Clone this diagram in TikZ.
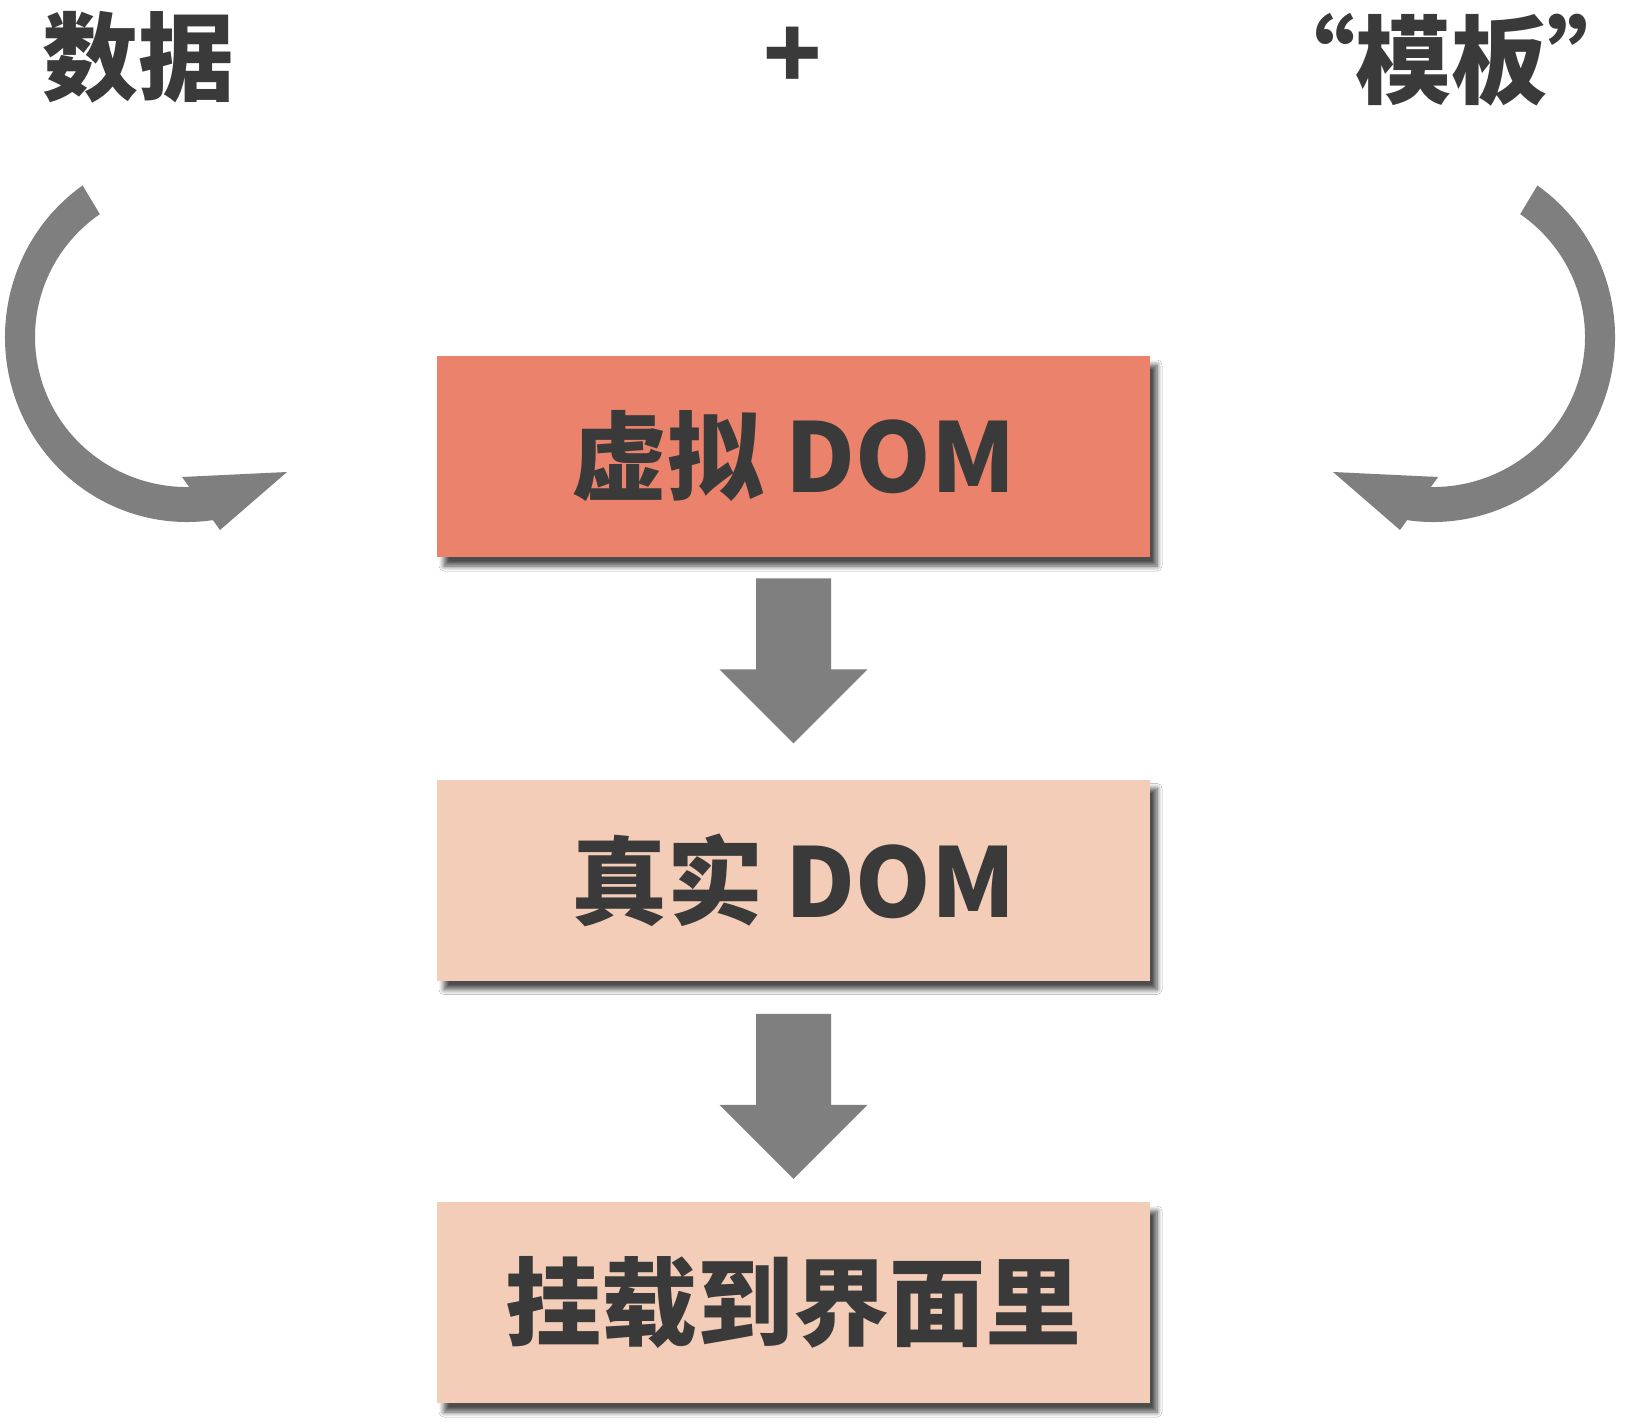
\documentclass[tikz,border=0pt]{standalone}
\usepackage{fontspec}
\setmainfont{Noto Sans CJK SC}
\usetikzlibrary{calc,shadows.blur}
\definecolor{boxdark}{HTML}{EB836C}
\definecolor{boxlight}{HTML}{F4CDB9}
\definecolor{arrowgray}{HTML}{7F7F7F}
\definecolor{textdark}{HTML}{3A3A3A}
\tikzset{
  bigtext/.style={font=\fontsize{48pt}{52pt}\selectfont\bfseries, text=textdark, inner sep=0pt},
  stagebox/.style={bigtext, minimum width=356.5pt, minimum height=100.5pt, inner sep=0pt,
    blur shadow={shadow xshift=3.5pt, shadow yshift=-4.5pt, shadow blur radius=2.5pt, shadow blur steps=8, shadow opacity=70}},
  downarrow/.pic={\fill[arrowgray] (-37.5,0) -- (37.5,0) -- (37.5,91) -- (74,91) -- (0,165) -- (-74,91) -- (-37.5,91) -- cycle;}
}
\begin{document}
\begin{tikzpicture}[x=0.5pt,y=-0.5pt]
\useasboundingbox[fill=white] (0,0) rectangle (1626,1424);

% top labels
\node[bigtext] (data) at (138,57) {数据};
\node[bigtext] (plus) at (793,58) {+};
\node[bigtext] (tmpl) at (1451,60) {“模板”};

% stage boxes
\node[stagebox, fill=boxdark] (vdom) at (793.5,456.5) {虚拟 DOM};
\node[stagebox, fill=boxlight] (rdom) at (793.5,880) {真实 DOM};
\node[stagebox, fill=boxlight] (mount) at (793.5,1302.5) {挂载到界面里};

% straight block arrows between boxes
\pic at ($(vdom.south)+(0,21)$) {downarrow};
\pic at ($(rdom.south)+(0,33)$) {downarrow};

% left curved arrow
\fill[arrowgray] (187,337) ++(235:182 and 185) arc[start angle=235, end angle=78, x radius=182, y radius=185]
  -- ($(187,337)+(78:152 and 150)$) arc[start angle=78, end angle=235, x radius=152, y radius=150] -- cycle;
\fill[arrowgray] (182,477) -- (287,472) -- (220,530) -- cycle;

% right curved arrow
\fill[arrowgray] (1433,337) ++(-55:182 and 185) arc[start angle=-55, end angle=102, x radius=182, y radius=185]
  -- ($(1433,337)+(102:152 and 150)$) arc[start angle=102, end angle=-55, x radius=152, y radius=150] -- cycle;
\fill[arrowgray] (1438,477) -- (1333,472) -- (1400,530) -- cycle;
\end{tikzpicture}
\end{document}
